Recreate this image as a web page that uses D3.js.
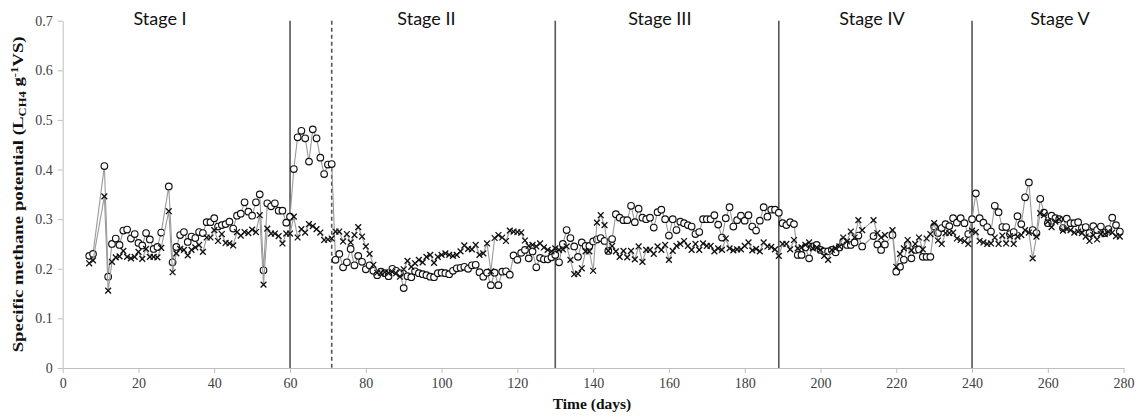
<!DOCTYPE html>
<html>
<head>
<meta charset="utf-8">
<script src="https://cdn.jsdelivr.net/npm/d3@7"></script>
<style>
  html, body { margin: 0; padding: 0; background: #fff; }
  svg { display: block; }
</style>
</head>
<body>
<svg id="chart" width="1141" height="417"></svg>
<script>
// Sampling days (days 9-10, 27, 212-213 and 218 were not sampled)
const days = [7, 8]
  .concat(d3.range(11, 27))
  .concat(d3.range(28, 212))
  .concat(d3.range(214, 218))
  .concat(d3.range(219, 280));

// Specific methane potential, open-circle series (L CH4 per g VS)
const smpCircle = [
  0.226, 0.230,
  0.407, 0.184, 0.250, 0.261, 0.248, 0.277, 0.279, 0.261, 0.270, 0.252, 0.247, 0.272, 0.259, 0.240, 0.244, 0.273,
  0.366, 0.213, 0.244, 0.268, 0.274, 0.254, 0.265, 0.262, 0.274, 0.272, 0.294, 0.294, 0.302, 0.285, 0.288, 0.290,
  0.295, 0.281, 0.307, 0.311, 0.334, 0.315, 0.307, 0.334, 0.350, 0.197, 0.332, 0.326, 0.332, 0.317, 0.317, 0.293,
  0.305, 0.401, 0.465, 0.478, 0.463, 0.416, 0.481, 0.463, 0.424, 0.391, 0.410, 0.411, 0.218, 0.230, 0.203, 0.213,
  0.240, 0.207, 0.226, 0.214, 0.199, 0.207, 0.196, 0.187, 0.194, 0.191, 0.185, 0.200, 0.196, 0.191, 0.161, 0.185,
  0.183, 0.195, 0.191, 0.189, 0.187, 0.184, 0.183, 0.191, 0.192, 0.191, 0.189, 0.196, 0.201, 0.202, 0.204, 0.200,
  0.207, 0.208, 0.193, 0.184, 0.192, 0.167, 0.192, 0.167, 0.194, 0.195, 0.188, 0.227, 0.218, 0.232, 0.238, 0.221,
  0.235, 0.203, 0.222, 0.219, 0.219, 0.223, 0.228, 0.213, 0.250, 0.278, 0.262, 0.245, 0.224, 0.253, 0.246, 0.246,
  0.255, 0.259, 0.262, 0.256, 0.236, 0.260, 0.310, 0.303, 0.298, 0.298, 0.327, 0.294, 0.321, 0.303, 0.300, 0.303,
  0.283, 0.314, 0.319, 0.300, 0.267, 0.300, 0.278, 0.295, 0.292, 0.288, 0.285, 0.270, 0.274, 0.300, 0.300, 0.300,
  0.308, 0.289, 0.263, 0.302, 0.324, 0.285, 0.298, 0.307, 0.297, 0.308, 0.285, 0.277, 0.297, 0.324, 0.305, 0.319,
  0.319, 0.313, 0.292, 0.288, 0.294, 0.290, 0.228, 0.228, 0.243, 0.221, 0.245, 0.248, 0.238, 0.235, 0.235, 0.238,
  0.233, 0.243, 0.255, 0.248, 0.248, 0.253, 0.267, 0.245,
  0.266, 0.249, 0.238, 0.249,
  0.268, 0.194, 0.204, 0.218, 0.248, 0.221, 0.238, 0.239, 0.224, 0.224, 0.224, 0.285, 0.272, 0.282, 0.290, 0.286,
  0.302, 0.293, 0.302, 0.292, 0.270, 0.300, 0.352, 0.302, 0.293, 0.284, 0.275, 0.327, 0.314, 0.284, 0.284, 0.270,
  0.274, 0.306, 0.290, 0.344, 0.374, 0.278, 0.272, 0.341, 0.313, 0.292, 0.307, 0.302, 0.300, 0.282, 0.301, 0.292,
  0.292, 0.294, 0.282, 0.284, 0.272, 0.286, 0.278, 0.285, 0.272, 0.280, 0.303, 0.288, 0.275
];

// Specific methane potential, cross series (L CH4 per g VS)
const smpCross = [
  0.211, 0.217,
  0.346, 0.156, 0.214, 0.223, 0.225, 0.236, 0.224, 0.221, 0.224, 0.234, 0.220, 0.240, 0.224, 0.224, 0.223, 0.242,
  0.316, 0.193, 0.231, 0.240, 0.238, 0.227, 0.238, 0.243, 0.248, 0.234, 0.263, 0.263, 0.278, 0.256, 0.270, 0.252,
  0.251, 0.247, 0.274, 0.267, 0.274, 0.272, 0.279, 0.274, 0.308, 0.168, 0.281, 0.271, 0.271, 0.266, 0.251, 0.271,
  0.271, 0.305, 0.263, 0.280, 0.273, 0.290, 0.286, 0.280, 0.273, 0.258, 0.259, 0.261, 0.275, 0.275, 0.255, 0.270,
  0.253, 0.268, 0.284, 0.265, 0.245, 0.230, 0.208, 0.192, 0.192, 0.193, 0.191, 0.194, 0.191, 0.184, 0.199, 0.216,
  0.204, 0.211, 0.218, 0.213, 0.224, 0.228, 0.212, 0.224, 0.228, 0.231, 0.228, 0.226, 0.228, 0.235, 0.247, 0.240,
  0.239, 0.248, 0.228, 0.231, 0.251, 0.195, 0.262, 0.268, 0.263, 0.256, 0.277, 0.275, 0.274, 0.273, 0.257, 0.246,
  0.248, 0.245, 0.251, 0.243, 0.238, 0.235, 0.241, 0.238, 0.239, 0.245, 0.218, 0.189, 0.190, 0.201, 0.235, 0.235,
  0.196, 0.293, 0.308, 0.288, 0.236, 0.246, 0.235, 0.224, 0.236, 0.223, 0.236, 0.219, 0.245, 0.214, 0.238, 0.238,
  0.230, 0.245, 0.238, 0.248, 0.218, 0.236, 0.246, 0.250, 0.256, 0.246, 0.238, 0.250, 0.238, 0.251, 0.246, 0.246,
  0.235, 0.241, 0.238, 0.261, 0.241, 0.237, 0.239, 0.239, 0.246, 0.253, 0.237, 0.240, 0.235, 0.253, 0.245, 0.244,
  0.239, 0.226, 0.250, 0.250, 0.239, 0.258, 0.241, 0.243, 0.248, 0.253, 0.241, 0.243, 0.238, 0.226, 0.218, 0.238,
  0.241, 0.245, 0.263, 0.255, 0.275, 0.263, 0.298, 0.278,
  0.298, 0.272, 0.263, 0.268,
  0.278, 0.204, 0.230, 0.241, 0.258, 0.237, 0.250, 0.263, 0.239, 0.261, 0.270, 0.292, 0.257, 0.250, 0.272, 0.272,
  0.273, 0.261, 0.258, 0.256, 0.250, 0.277, 0.274, 0.256, 0.253, 0.250, 0.251, 0.263, 0.250, 0.267, 0.251, 0.266,
  0.250, 0.265, 0.268, 0.278, 0.273, 0.221, 0.265, 0.312, 0.308, 0.295, 0.284, 0.295, 0.300, 0.277, 0.280, 0.278,
  0.273, 0.275, 0.272, 0.265, 0.256, 0.268, 0.259, 0.270, 0.270, 0.275, 0.273, 0.266, 0.265
];

// Stage boundaries (day) and whether the line is dashed
const stageBoundaries = [60, 71, 130, 189, 240];
const stageDashed = [false, true, false, false, false];

// Stage captions and the day each one is centred on
const stageNames = ["Stage I", "Stage II", "Stage III", "Stage IV", "Stage V"];
const stageCentres = [25.7, 96, 157.6, 213.6, 263.2];

// Axis ticks
const xTicks = d3.range(0, 281, 20);
const yTicks = [0, 0.1, 0.2, 0.3, 0.4, 0.5, 0.6, 0.7];
const yTickLabels = ["0", "0.1", "0.2", "0.3", "0.4", "0.5", "0.6", "0.7"];

const svg = d3.select("#chart");
const x = d3.scaleLinear().domain([0, 280]).range([62.7, 1123.6]);
const y = d3.scaleLinear().domain([0, 0.7]).range([368, 20.7]);

const serif = "'Liberation Serif', 'Times New Roman', serif";

// Axes
const xAxis = svg.append("g")
  .attr("transform", `translate(0,${y(0)})`)
  .call(d3.axisBottom(x).tickValues(xTicks).tickSize(5).tickPadding(5).tickSizeOuter(0));
const yAxis = svg.append("g")
  .attr("transform", `translate(${x(0)},0)`)
  .call(d3.axisLeft(y).tickValues(yTicks).tickSize(5).tickPadding(5).tickSizeOuter(0)
    .tickFormat((d, i) => yTickLabels[i]));

[xAxis, yAxis].forEach(g => {
  g.attr("font-family", null).attr("font-size", null);
  g.select(".domain").attr("stroke", "#bfbfbf").attr("stroke-width", 1);
  g.selectAll(".tick line").attr("stroke", "#bfbfbf");
  g.selectAll(".tick text")
    .attr("fill", "#404040")
    .style("font-family", serif)
    .style("font-size", "14px");
});

// Stage boundary lines
svg.append("g").selectAll("line")
  .data(stageBoundaries)
  .join("line")
  .attr("x1", d => x(d)).attr("x2", d => x(d))
  .attr("y1", y(0.7)).attr("y2", y(0))
  .attr("stroke", "#555")
  .attr("stroke-width", 1.6)
  .attr("stroke-dasharray", (d, i) => stageDashed[i] ? "4,3" : null);

// Stage captions
svg.append("g").selectAll("text")
  .data(stageNames)
  .join("text")
  .attr("x", (d, i) => x(stageCentres[i]))
  .attr("y", 25)
  .attr("text-anchor", "middle")
  .style("font-family", "Lato, 'Open Sans', sans-serif")
  .style("font-size", "18px")
  .attr("fill", "#111")
  .text(d => d);

// Series
const line = d3.line().x(d => x(d[0])).y(d => y(d[1]));
const circlePts = days.map((d, i) => [d, smpCircle[i]]);
const crossPts = days.map((d, i) => [d, smpCross[i]]);

function drawLine(pts) {
  svg.append("path")
    .datum(pts)
    .attr("fill", "none")
    .attr("stroke", "#9a9a9a")
    .attr("stroke-width", 1.1)
    .attr("d", line);
}

drawLine(circlePts);
svg.append("g").selectAll("circle")
  .data(circlePts)
  .join("circle")
  .attr("cx", d => x(d[0]))
  .attr("cy", d => y(d[1]))
  .attr("r", 3.3)
  .attr("fill", "#fff")
  .attr("stroke", "#111")
  .attr("stroke-width", 1.15);

drawLine(crossPts);
const s = 2.9;
svg.append("g").selectAll("path")
  .data(crossPts)
  .join("path")
  .attr("transform", d => `translate(${x(d[0])},${y(d[1])})`)
  .attr("d", `M${-s},${-s}L${s},${s}M${-s},${s}L${s},${-s}`)
  .attr("stroke", "#111")
  .attr("stroke-width", 1.3)
  .attr("fill", "none");

// Axis titles
svg.append("text")
  .attr("x", 592)
  .attr("y", 409)
  .attr("text-anchor", "middle")
  .style("font-family", serif)
  .style("font-size", "15.5px")
  .style("font-weight", "bold")
  .attr("fill", "#111")
  .text("Time (days)");

const yTitle = svg.append("text")
  .attr("transform", `translate(23,${y(0.35)}) rotate(-90)`)
  .attr("text-anchor", "middle")
  .attr("textLength", 316)
  .attr("lengthAdjust", "spacingAndGlyphs")
  .style("font-family", serif)
  .style("font-size", "15px")
  .style("font-weight", "bold")
  .attr("fill", "#111");
yTitle.append("tspan").text("Specific methane potential (L");
yTitle.append("tspan").attr("dy", 3).style("font-size", "10px").text("CH4");
yTitle.append("tspan").attr("dy", -3).text(" g");
yTitle.append("tspan").attr("dy", -5).style("font-size", "10px").text("-1");
yTitle.append("tspan").attr("dy", 5).text("VS)");
</script>
</body>
</html>
